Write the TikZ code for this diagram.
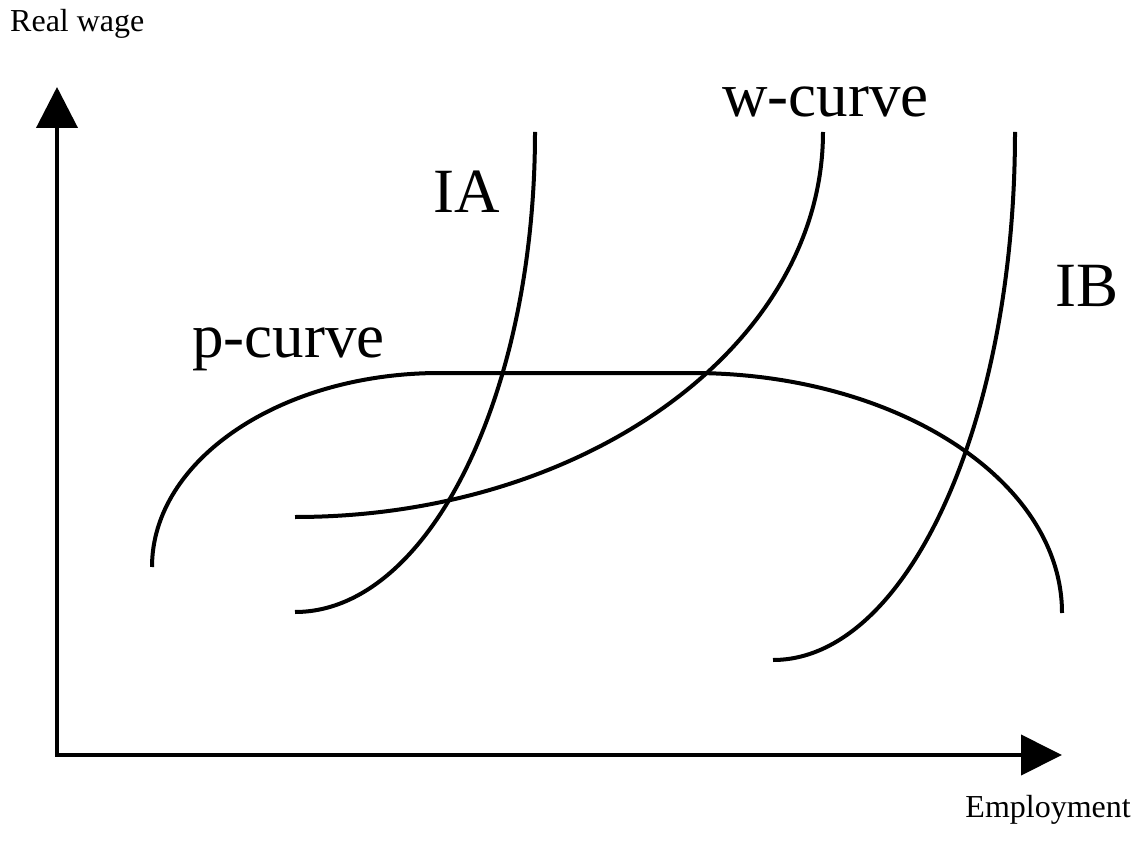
\documentclass[tikz,border=0pt]{standalone}
\usepackage{fontspec}
\setmainfont{Liberation Serif}
\usetikzlibrary{arrows.meta}
\tikzset{
  curveline/.style={line width=4pt, line cap=butt},
  axisline/.style={line width=4pt, line join=miter},
  smalllabel/.style={inner sep=0pt, font=\fontsize{32}{36}\selectfont},
  biglabel/.style={inner sep=0pt, font=\fontsize{63}{70}\selectfont},
}
\begin{document}
\begin{tikzpicture}[x=1pt,y=-1pt]
\useasboundingbox (0,0) rectangle (1146,850);
% axes
\coordinate (Ytip) at (57,87);
\coordinate (O) at (57,755);
\coordinate (Xtip) at (1062,755);
\draw[axisline,{Triangle[length=41pt,width=41pt]}-{Triangle[length=41pt,width=40pt]}] (Ytip) -- (O) -- (Xtip);
% labels
\node[smalllabel, anchor=base west] (rw) at (10,32) {Real wage};
\node[smalllabel, anchor=base east] (emp) at (1131,817) {Employment};
\node[biglabel, anchor=base west] (wl) at (722,117) {w-curve};
\node[biglabel, anchor=base west] (ial) at (433,213) {IA};
\node[biglabel, anchor=base west] (ibl) at (1055,307) {IB};
\node[biglabel, anchor=base west] (pl) at (192,357) {p-curve};
% p-curve
\coordinate (p0) at (152,567);
\coordinate (p1) at (440,373);
\coordinate (p2) at (692,373);
\coordinate (p3) at (1062,613);
\draw[curveline] (p0) .. controls (152,459.9) and (280.9,373) .. (p1) -- (p2)
  .. controls (896.4,373) and (1062,480.4) .. (p3);
% IA
\coordinate (a0) at (295,612);
\coordinate (a1) at (535,132);
\draw[curveline] (a0) .. controls (427.6,612) and (535,397.1) .. (a1);
% w-curve
\coordinate (w0) at (295,517);
\coordinate (w1) at (823,132);
\draw[curveline] (w0) .. controls (586.6,517) and (823,344.6) .. (w1);
% IB
\coordinate (b0) at (773,660);
\coordinate (b1) at (1015,132);
\draw[curveline] (b0) .. controls (906.7,660) and (1015,423.6) .. (b1);
\end{tikzpicture}
\end{document}
